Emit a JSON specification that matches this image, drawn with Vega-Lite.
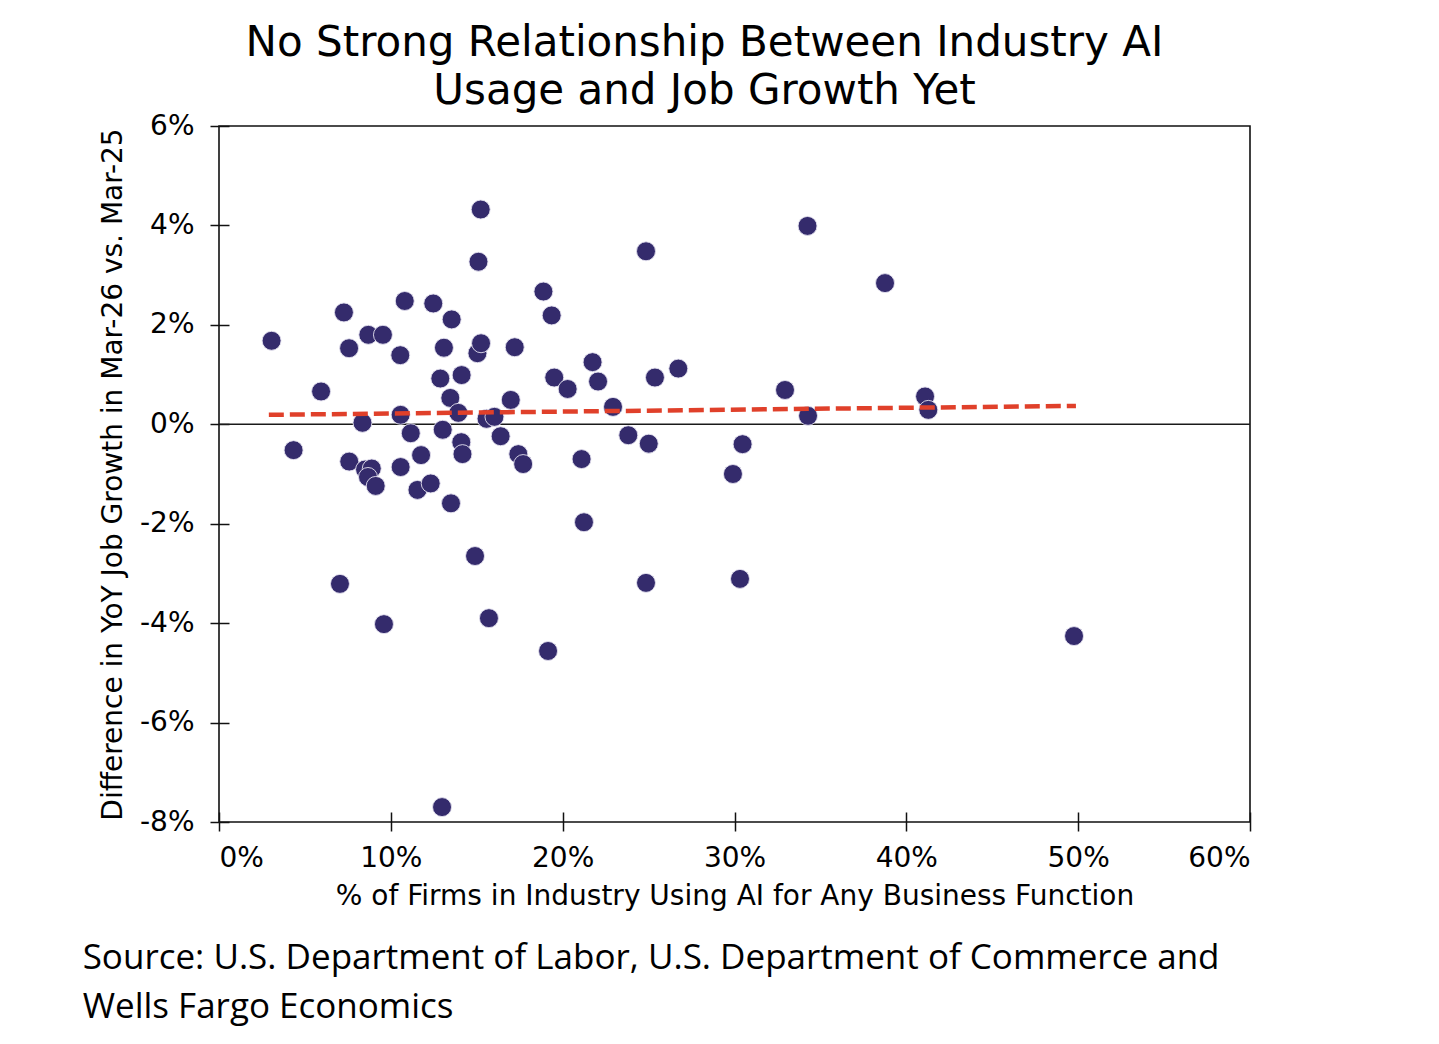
{
  "$schema": "https://vega.github.io/schema/vega-lite/v6.json",
  "padding": {"left": 82, "top": 21, "right": 5, "bottom": 5},
  "background": "white",
  "title": {
    "text": ["Source: U.S. Department of Labor, U.S. Department of Commerce and", "Wells Fargo Economics"],
    "orient": "bottom",
    "anchor": "start",
    "frame": "bounds",
    "font": "Open Sans",
    "fontSize": 35,
    "fontWeight": "normal",
    "lineHeight": 49,
    "color": "black",
    "offset": 30,
    "dx": -16
  },
  "datasets": {
    "points": [
      {"ai": 3.06, "diff": 1.68}, {"ai": 4.34, "diff": -0.52}, {"ai": 5.94, "diff": 0.66},
      {"ai": 7.27, "diff": 2.25}, {"ai": 7.57, "diff": 1.53}, {"ai": 7.04, "diff": -3.21},
      {"ai": 7.58, "diff": -0.75}, {"ai": 8.35, "diff": 0.03}, {"ai": 8.69, "diff": 1.8},
      {"ai": 9.54, "diff": 1.8}, {"ai": 8.5, "diff": -0.91}, {"ai": 8.89, "diff": -0.89},
      {"ai": 8.67, "diff": -1.06}, {"ai": 9.12, "diff": -1.24}, {"ai": 9.6, "diff": -4.02},
      {"ai": 10.55, "diff": 1.39}, {"ai": 10.81, "diff": 2.48}, {"ai": 10.57, "diff": 0.19},
      {"ai": 10.57, "diff": -0.86}, {"ai": 11.16, "diff": -0.18}, {"ai": 11.55, "diff": -1.32},
      {"ai": 11.76, "diff": -0.62}, {"ai": 12.32, "diff": -1.19}, {"ai": 12.47, "diff": 2.43},
      {"ai": 12.88, "diff": 0.92}, {"ai": 13.09, "diff": 1.54}, {"ai": 13.02, "diff": -0.11},
      {"ai": 12.98, "diff": -7.7}, {"ai": 13.54, "diff": 2.11}, {"ai": 13.46, "diff": 0.53},
      {"ai": 13.93, "diff": 0.23}, {"ai": 14.12, "diff": 0.99}, {"ai": 14.1, "diff": -0.36},
      {"ai": 14.17, "diff": -0.6}, {"ai": 13.5, "diff": -1.59}, {"ai": 14.9, "diff": -2.65},
      {"ai": 15.04, "diff": 1.43}, {"ai": 15.1, "diff": 3.27}, {"ai": 15.23, "diff": 4.32},
      {"ai": 15.25, "diff": 1.63}, {"ai": 15.57, "diff": 0.11}, {"ai": 16.03, "diff": 0.15},
      {"ai": 15.71, "diff": -3.9}, {"ai": 16.39, "diff": -0.24}, {"ai": 16.98, "diff": 0.49},
      {"ai": 17.21, "diff": 1.55}, {"ai": 17.42, "diff": -0.6}, {"ai": 17.7, "diff": -0.8},
      {"ai": 18.88, "diff": 2.67}, {"ai": 19.36, "diff": 2.19}, {"ai": 19.15, "diff": -4.56},
      {"ai": 19.51, "diff": 0.94}, {"ai": 20.29, "diff": 0.71}, {"ai": 21.1, "diff": -0.7},
      {"ai": 21.24, "diff": -1.97}, {"ai": 21.74, "diff": 1.25}, {"ai": 22.06, "diff": 0.86},
      {"ai": 22.93, "diff": 0.35}, {"ai": 23.82, "diff": -0.22}, {"ai": 24.85, "diff": 3.48},
      {"ai": 25.01, "diff": -0.39}, {"ai": 24.85, "diff": -3.19}, {"ai": 25.37, "diff": 0.94},
      {"ai": 26.73, "diff": 1.12}, {"ai": 29.91, "diff": -1.0}, {"ai": 30.47, "diff": -0.4},
      {"ai": 30.32, "diff": -3.11}, {"ai": 32.94, "diff": 0.69}, {"ai": 34.25, "diff": 3.99},
      {"ai": 34.28, "diff": 0.17}, {"ai": 38.76, "diff": 2.84}, {"ai": 41.09, "diff": 0.56},
      {"ai": 41.28, "diff": 0.29}, {"ai": 49.76, "diff": -4.26}
    ],
    "trend": [
      {"ai": 2.9, "diff": 0.19},
      {"ai": 49.87, "diff": 0.37}
    ],
    "zero": [{"diff": 0}]
  },
  "vconcat": [
    {
      "width": 1031,
      "height": 696,
      "title": {
        "text": ["No Strong Relationship Between Industry AI", "Usage and Job Growth Yet"],
        "anchor": "middle",
        "font": "DejaVu Sans",
        "fontSize": 42,
        "fontWeight": "normal",
        "lineHeight": 48,
        "color": "black",
        "offset": -1,
        "dx": -30
      },
      "layer": [
        {
          "data": {"name": "zero"},
          "mark": {"type": "rule", "color": "#1a1a1a", "strokeWidth": 1.6},
          "encoding": {
            "y": {"field": "diff", "type": "quantitative"}
          }
        },
        {
          "data": {"name": "points"},
          "mark": {"type": "circle", "size": 360, "color": "#342b6c", "opacity": 1, "stroke": "#e4e2ef", "strokeWidth": 0.9},
          "encoding": {
            "x": {
              "field": "ai",
              "type": "quantitative",
              "scale": {"domain": [0, 60], "nice": false},
              "axis": {"values": [0, 10, 20, 30, 40, 50, 60], "labelExpr": "datum.value + '%'"},
              "title": "% of Firms in Industry Using AI for Any Business Function"
            },
            "y": {
              "field": "diff",
              "type": "quantitative",
              "scale": {"domain": [-8, 6], "nice": false},
              "axis": {"values": [-8, -6, -4, -2, 0, 2, 4, 6], "labelExpr": "datum.value + '%'"},
              "title": "Difference in YoY Job Growth in Mar-26 vs. Mar-25"
            }
          }
        },
        {
          "data": {"name": "trend"},
          "mark": {"type": "line", "color": "#e0402a", "strokeWidth": 4.5, "strokeDash": [15, 6]},
          "encoding": {
            "x": {"field": "ai", "type": "quantitative"},
            "y": {"field": "diff", "type": "quantitative"}
          }
        }
      ]
    }
  ],
  "config": {
    "font": "DejaVu Sans",
    "view": {"stroke": "#111", "strokeWidth": 1.6},
    "axis": {
      "grid": false,
      "domain": false,
      "offset": -10,
      "tickSize": 19,
      "tickColor": "#111",
      "tickWidth": 1.5,
      "labelFont": "DejaVu Sans",
      "labelFontSize": 28,
      "labelColor": "black",
      "titleFont": "DejaVu Sans",
      "titleFontSize": 28,
      "titleFontWeight": "normal",
      "titleColor": "black"
    },
    "axisX": {"titlePadding": 10, "labelPadding": 13},
    "axisY": {"titlePadding": 12, "labelPadding": 16}
  }
}
